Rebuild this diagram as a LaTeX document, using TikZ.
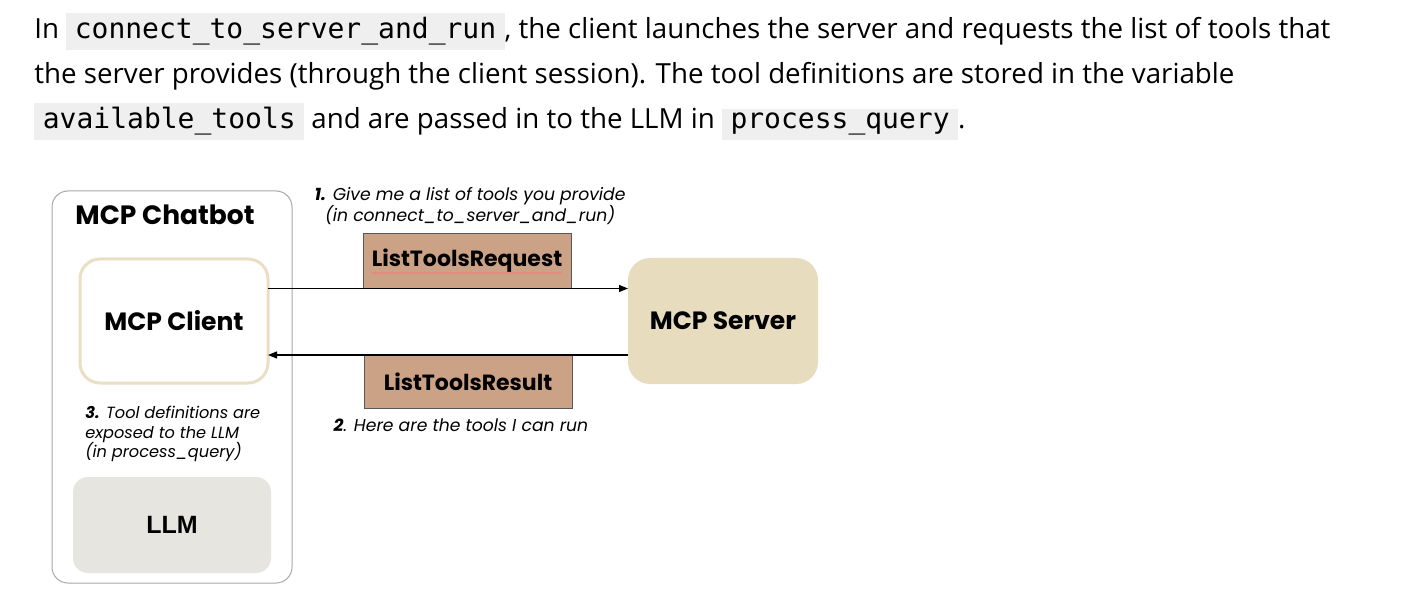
\documentclass[tikz,border=0pt]{standalone}
\usepackage{fontspec}
\setmainfont{Open Sans}
\setmonofont{DejaVu Sans Mono}
\newfontfamily\popfont{Poppins}
\newfontfamily\llmfont{Liberation Sans}
\usetikzlibrary{arrows.meta,decorations.pathmorphing}

\definecolor{codebg}{HTML}{EFEFEF}
\definecolor{msgtan}{HTML}{CBA285}
\definecolor{srvbeige}{HTML}{E8DCBF}
\definecolor{clientrim}{HTML}{EADFC5}
\definecolor{llmgray}{HTML}{E6E5E0}
\definecolor{boxrim}{HTML}{A8A8A8}

\newcommand{\codebit}[1]{{\setlength{\fboxsep}{4.5pt}\colorbox{codebg}{\hspace{4pt}\fontsize{28}{30}\ttfamily #1\hspace{4pt}}}}

\tikzset{every picture/.style={line width=0.75pt}}
\tikzset{
  parline/.style={anchor=base west, inner sep=0pt, font=\fontsize{27.7}{30}\selectfont},
  titlefont/.style={font=\popfont\bfseries\fontsize{25}{28}\selectfont},
  notefont/.style={font=\popfont\itshape\fontsize{17.2}{20}\selectfont},
  msgbox/.style={draw=black!65, fill=msgtan, line width=1pt, minimum width=208, minimum height=55, inner sep=0pt, outer sep=0pt, font=\popfont\bfseries\fontsize{22}{24}\selectfont},
  msgarrow/.style={line width=1.2pt, -{Triangle[length=9pt,width=7pt]}},
}

\begin{document}
\begin{tikzpicture}[x=1pt,y=1pt,yscale=-1,xscale=1]
	\useasboundingbox (0,0) rectangle (1402,612);
	\fill[white] (0,0) rectangle (1402,612);

	% Paragraph lines
	\node[parline] (lineA) at (34,39) {In \codebit{connect\_to\_server\_and\_run}, the client launches the server and requests the list of tools that};
	\node[parline] (lineB) at (34,84) {the server provides (through the client session). The tool definitions are stored in the variable};
	\node[parline] (lineC) at (34,129) {\codebit{available\_tools} and are passed in to the LLM in \codebit{process\_query}.};

	% Chatbot frame
	\node[draw=boxrim, line width=1pt, rounded corners=16, minimum width=240, minimum height=392, outer sep=0pt] (chatbot) at (172,387) {};
	\node[titlefont, font=\popfont\bfseries\fontsize{26.5}{28}\selectfont] (chattitle) at (165,215) {MCP Chatbot};

	% Client, LLM and server
	\node[draw=clientrim, fill=white, line width=3pt, rounded corners=20, minimum width=188, minimum height=124, outer sep=0pt, titlefont] (client) at (174,321) {MCP Client};
	\node[fill=llmgray, rounded corners=15, minimum width=198, minimum height=96, outer sep=0pt, font=\llmfont\bfseries\fontsize{25}{28}\selectfont] (llm) at (172,525) {LLM};
	\node[fill=srvbeige, rounded corners=22, minimum width=190, minimum height=126, outer sep=0pt, titlefont] (server) at (723,321) {MCP Server};

	% Messages
	\node[msgbox] (req) at (467,261) {ListToolsRequest};
	\node[msgbox, minimum height=53] (res) at (468,381.5) {ListToolsResult};
	\draw[red!55, line width=0.5pt, decorate, decoration={snake, amplitude=0.6pt, segment length=3pt}] ([xshift=-95,yshift=12]req.center) -- ([xshift=95,yshift=12]req.center);

	% Arrows
	\draw[msgarrow] (client.east |- req.south) -- (server.west |- req.south);
	\draw[msgarrow] (server.west |- res.north) -- (client.east |- res.north);

	% Text Node
	\node[notefont, anchor=west, align=center] (note1) at (311,206) {\textbf{1.} Give me a list of tools you provide\\(in connect\_to\_server\_and\_run)};
	% Text Node
	\node[notefont, anchor=west] (note2) at (330,425) {\textbf{2}. Here are the tools I can run};
	% Text Node
	\node[notefont, font=\popfont\itshape\fontsize{16.2}{19.5}\selectfont, anchor=north west, align=left, inner sep=0pt] (note3) at (85,406) {\textbf{3.} Tool definitions are\\exposed to the LLM\\(in process\_query)};
\end{tikzpicture}
\end{document}
